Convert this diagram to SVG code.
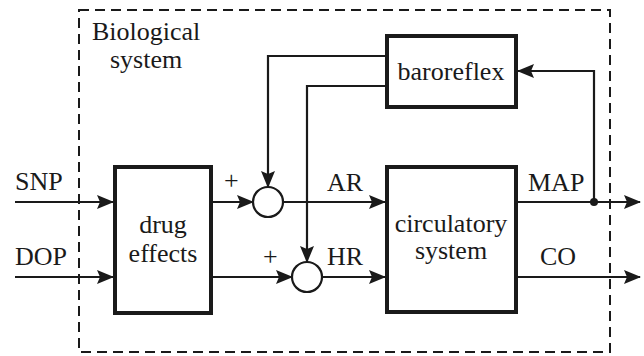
<svg xmlns="http://www.w3.org/2000/svg" width="644" height="356" viewBox="0 0 644 356">
<style>
.t{font-family:'Liberation Serif','Times New Roman',serif;font-size:26px;fill:#1a1a1a}
.box{fill:#fff;stroke:#1a1a1a;stroke-width:4}
.ln{fill:none;stroke:#1a1a1a;stroke-width:2.2}
.sum{fill:#fff;stroke:#1a1a1a;stroke-width:2.2}
</style>
<defs>
<marker id="ah" markerWidth="17" markerHeight="14" refX="16" refY="7" orient="auto" markerUnits="userSpaceOnUse">
<path d="M0,0 L17,7 L0,14 L3,7 Z" fill="#1a1a1a"/>
</marker>
</defs>
<rect x="79" y="10" width="531" height="342" fill="none" stroke="#1a1a1a" stroke-width="2" stroke-dasharray="10,6"/>
<text class="t" x="92" y="40">Biological</text>
<text class="t" x="110" y="68">system</text>
<g id="connectors">
<line class="ln" x1="15" y1="202" x2="113" y2="202" marker-end="url(#ah)"/>
<line class="ln" x1="15" y1="277" x2="113" y2="277" marker-end="url(#ah)"/>
<line class="ln" x1="213" y1="202" x2="253" y2="202" marker-end="url(#ah)"/>
<line class="ln" x1="213" y1="277" x2="292" y2="277" marker-end="url(#ah)"/>
<line class="ln" x1="283" y1="202" x2="385" y2="202" marker-end="url(#ah)"/>
<line class="ln" x1="322" y1="277" x2="385" y2="277" marker-end="url(#ah)"/>
<polyline class="ln" points="387,56 268,56 268,187" marker-end="url(#ah)"/>
<polyline class="ln" points="387,86 307,86 307,262" marker-end="url(#ah)"/>
<line class="ln" x1="518" y1="202" x2="640" y2="202" marker-end="url(#ah)"/>
<line class="ln" x1="518" y1="277" x2="640" y2="277" marker-end="url(#ah)"/>
<polyline class="ln" points="594,202 594,71 518,71" marker-end="url(#ah)"/>
<circle cx="594" cy="202" r="4" fill="#1a1a1a"/>
</g>
<g id="drug">
<rect class="box" x="115" y="167" width="96" height="146"/>
<text class="t" x="163" y="233" text-anchor="middle">drug</text>
<text class="t" x="163" y="262" text-anchor="middle">effects</text>
</g>
<g id="circ">
<rect class="box" x="387" y="167" width="129" height="145"/>
<text class="t" x="451" y="232" text-anchor="middle">circulatory</text>
<text class="t" x="451" y="259" text-anchor="middle">system</text>
</g>
<g id="baro">
<rect class="box" x="387" y="36" width="129" height="71"/>
<text class="t" x="451" y="80" text-anchor="middle">baroreflex</text>
</g>
<g id="sum1">
<circle class="sum" cx="268" cy="202" r="15"/>
</g>
<g id="sum2">
<circle class="sum" cx="307" cy="277" r="15"/>
</g>
<g id="labels">
<text class="t" x="224" y="189" font-size="23">+</text>
<text class="t" x="263" y="265" font-size="23">+</text>
<text class="t" x="327" y="191">AR</text>
<text class="t" x="327" y="265">HR</text>
<text class="t" x="528" y="191">MAP</text>
<text class="t" x="540" y="265">CO</text>
<text class="t" x="15" y="190">SNP</text>
<text class="t" x="15" y="265">DOP</text>
</g>
</svg>
